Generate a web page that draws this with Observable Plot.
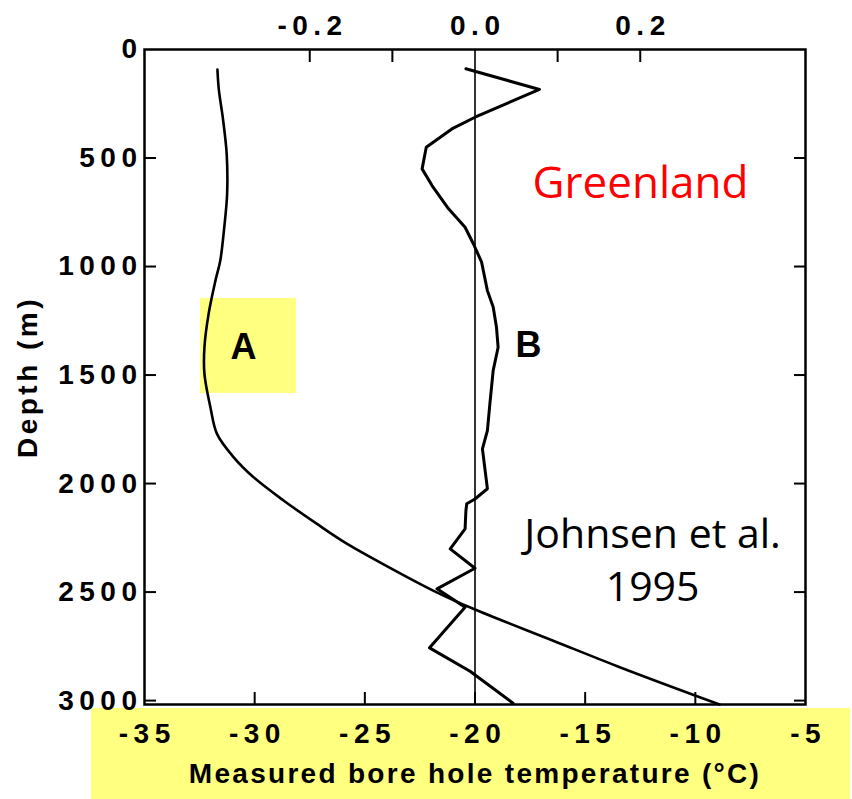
<!DOCTYPE html>
<html>
<head>
<meta charset="utf-8">
<script src="https://cdn.jsdelivr.net/npm/d3@7"></script>
<script src="https://cdn.jsdelivr.net/npm/@observablehq/plot@0.6"></script>
<style>
  body { margin: 0; background: #fff; }
  #wrap { position: relative; width: 852px; height: 799px; }
  #band { position: absolute; left: 91px; top: 708px; width: 759px; height: 91px; background: #ffff80; }
  #wrap svg { position: absolute; left: 0; top: 0; background: transparent; }
  g[aria-label="y-axis tick label"] text,
  g[aria-label="x-axis tick label"] text { letter-spacing: 5.5px; }
  g[aria-label="x-axis label"] text { letter-spacing: 2.3px; }
  g[aria-label="y-axis label"] text { letter-spacing: 3.5px; }
</style>
</head>
<body>
<div id="wrap"><div id="band"></div></div>
<script>
// Profile A: measured bore hole temperature (°C) against depth (m)
const depthA = [92, 181, 327, 481, 665, 819, 972, 1065, 1218, 1372, 1495, 1648, 1771, 1879, 1971, 2078, 2186, 2278, 2386, 2493, 2577, 2724, 2846, 3018];
const tempA  = [-31.69, -31.63, -31.43, -31.27, -31.25, -31.38, -31.56, -31.78, -32.09, -32.28, -32.28, -32.01, -31.71, -30.95, -30.05, -28.69, -27.17, -25.8, -23.9, -21.9, -20.08, -16.45, -13.43, -8.9];

// Profile B: deviation read on the top scale, against depth (m)
const depthB = [89, 184, 312, 366, 450, 550, 627, 734, 819, 895, 980, 1111, 1187, 1280, 1372, 1479, 1633, 1756, 1840, 2024, 2071, 2093, 2124, 2209, 2301, 2390, 2485, 2570, 2757, 2865, 3012];
const devB   = [-0.011, 0.078, 0.0, -0.028, -0.059, -0.064, -0.052, -0.032, -0.012, -0.002, 0.008, 0.015, 0.022, 0.026, 0.028, 0.022, 0.018, 0.015, 0.009, 0.015, 0.0, -0.010, -0.011, -0.012, -0.030, 0.0, -0.046, -0.012, -0.055, -0.006, 0.046];

// Axis ticks
const tempTicks  = [-35, -30, -25, -20, -15, -10, -5];
const tempMarks  = [-30, -25, -20, -15, -10];
const devTicks   = [-0.2, 0.0, 0.2];
const devMarks   = [-0.2, -0.1, 0.1, 0.2];
const depthTicks = [0, 500, 1000, 1500, 2000, 2500, 3000];

// The top scale spans -0.4 … 0.4 across the same width as -35 … -5 °C
const devToTemp = v => -20 + 37.5 * v;
const tempToDev = t => (t + 20) / 37.5;

const profileA = depthA.map((d, i) => ({depth: d, temp: tempA[i]}));
const profileB = depthB.map((d, i) => ({depth: d, temp: devToTemp(devB[i])}));

const helv = "'Liberation Sans', Arial, Helvetica, sans-serif";
const sans = "'Open Sans', 'Noto Sans', sans-serif";
const plain = d => String(d);

const chart = Plot.plot({
  width: 852,
  height: 799,
  marginLeft: 144,
  marginRight: 47,
  marginTop: 49,
  marginBottom: 95,
  style: {background: "transparent", fontFamily: helv, color: "#000"},
  x: {domain: [-35, -5]},
  y: {domain: [0, 3018], reverse: true},
  marks: [
    // highlight behind label A
    Plot.rect([0], {x1: -32.46, x2: -28.10, y1: 1147, y2: 1585, fill: "#ffff80"}),
    // zero line of the top scale
    Plot.ruleX([devToTemp(0)], {stroke: "#000", strokeWidth: 1.6}),
    Plot.line(profileA, {x: "temp", y: "depth", curve: "catmull-rom", stroke: "#000", strokeWidth: 2.6}),
    Plot.line(profileB, {x: "temp", y: "depth", stroke: "#000", strokeWidth: 3, strokeLinejoin: "round"}),
    Plot.frame({stroke: "#000", strokeWidth: 2.5}),

    // left axis: labels and inward ticks
    Plot.axisY(depthTicks, {anchor: "left", tickSize: 0, tickPadding: 2, fontSize: 28, fontWeight: "bold",
      tickFormat: plain, label: "Depth (m)", labelArrow: "none", labelAnchor: "center", labelOffset: 127}),
    Plot.axisY(depthTicks.slice(1), {anchor: "left", tickSize: -12, strokeWidth: 2, fill: "none", label: null}),
    Plot.axisY(depthTicks.slice(1), {anchor: "right", tickSize: -12, strokeWidth: 2, fill: "none", label: null}),

    // bottom axis: temperature
    Plot.axisX(tempTicks, {anchor: "bottom", tickSize: 0, tickPadding: 19, dx: 2.75, fontSize: 28, fontWeight: "bold",
      tickFormat: plain, label: "Measured bore hole temperature (°C)", labelArrow: "none", labelAnchor: "center", labelOffset: 78}),
    Plot.axisX(tempMarks, {anchor: "bottom", tickSize: -12, strokeWidth: 2, fill: "none", label: null}),

    // top axis: deviation
    Plot.axisX(devTicks.map(devToTemp), {anchor: "top", tickSize: 0, tickPadding: 15, dx: 2.75, fontSize: 28, fontWeight: "bold",
      tickFormat: t => tempToDev(t).toFixed(1), label: null}),
    Plot.axisX(devMarks.map(devToTemp), {anchor: "top", tickSize: -12, strokeWidth: 2, fill: "none", label: null}),

    // annotations
    Plot.text(["A"], {x: -30.51, y: 1424, text: d => d, lineAnchor: "bottom", fontSize: 36, fontWeight: "bold", fontFamily: helv, fill: "#000"}),
    Plot.text(["B"], {x: -17.57, y: 1419, text: d => d, lineAnchor: "bottom", fontSize: 36, fontWeight: "bold", fontFamily: helv, fill: "#000"}),
    Plot.text(["Greenland"], {x: -12.49, y: 682, text: d => d, lineAnchor: "bottom", fontSize: 44, fontFamily: sans, fill: "#ff0000"}),
    Plot.text(["Johnsen et al.\n1995"], {x: -11.94, y: 2539, text: d => d, lineAnchor: "bottom", lineHeight: 1.27, fontSize: 41, fontFamily: sans, fill: "#000"})
  ]
});

document.getElementById("wrap").appendChild(chart);
</script>
</body>
</html>
